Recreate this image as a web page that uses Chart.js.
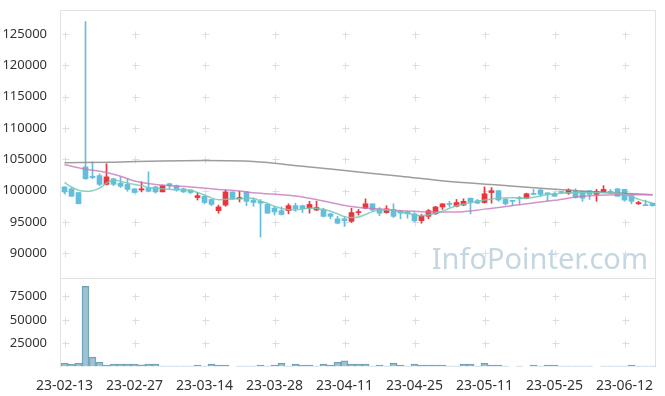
<!DOCTYPE html>
<html>
<head>
<meta charset="utf-8">
<script src="https://cdn.jsdelivr.net/npm/chart.js@4.4.0/dist/chart.umd.min.js"></script>
<style>
  body { margin: 0; background: #fff; }
  #wrap { position: relative; width: 665px; height: 396px; }
  canvas { position: absolute; left: 0; }
  #price { top: 0; }
  #vol { top: 278px; }
</style>
</head>
<body>
<div id="wrap">
  <canvas id="price" width="665" height="278"></canvas>
  <canvas id="vol" width="665" height="118"></canvas>
</div>
<script>
const _ = null;

// 거래일
const dates = [
  '23-02-13','23-02-14','23-02-15','23-02-16','23-02-17','23-02-20','23-02-21','23-02-22','23-02-23','23-02-24',
  '23-02-27','23-02-28','23-03-02','23-03-03','23-03-06','23-03-07','23-03-08','23-03-09','23-03-10','23-03-13',
  '23-03-14','23-03-15','23-03-16','23-03-17','23-03-20','23-03-21','23-03-22','23-03-23','23-03-24','23-03-27',
  '23-03-28','23-03-29','23-03-30','23-03-31','23-04-03','23-04-04','23-04-05','23-04-06','23-04-07','23-04-10',
  '23-04-11','23-04-12','23-04-13','23-04-14','23-04-17','23-04-18','23-04-19','23-04-20','23-04-21','23-04-24',
  '23-04-25','23-04-26','23-04-27','23-04-28','23-05-02','23-05-03','23-05-04','23-05-08','23-05-09','23-05-10',
  '23-05-11','23-05-12','23-05-15','23-05-16','23-05-17','23-05-18','23-05-19','23-05-22','23-05-23','23-05-24',
  '23-05-25','23-05-26','23-05-30','23-05-31','23-06-01','23-06-02','23-06-05','23-06-07','23-06-08','23-06-09',
  '23-06-12','23-06-13','23-06-14','23-06-15','23-06-16'
];

// 시가 / 고가 / 저가 / 종가
const opens = [
  100600, 100300, 99700, 103800, 102300, 102400, 101000, 101900, 101200, 101000,
  100300, 100100, 100400, 100600, 99800, 101100, 100800, 100300, 100100, 98900,
  99100, 98600, 96800, 97700, 99800, 98700, 99800, 98500, 98300, 97800,
  97200, 96800, 96800, 97600, 97600, 97200, 96900, 97000, 96300, 95500,
  95500, 95100, 96500, 97200, 97900, 97100, 96500, 97000, 96800, 96600,
  96300, 95200, 95900, 96300, 97400, 97900, 97500, 97700, 98800, 98400,
  98100, 99700, 100000, 98600, 98400, 98800, 98800, 99500, 100100, 99600,
  99500, 99800, 99600, 100000, 99900, 100000, 99400, 99700, 99900, 100300,
  100200, 99200, 97900, 97700, 98000
];
const highs = [
  100600, 100500, 99700, 127000, 104600, 102700, 104300, 102000, 102200, 101900,
  100300, 101400, 103000, 100700, 100900, 101200, 100900, 100400, 100100, 99700,
  99200, 98600, 97700, 100100, 99800, 99900, 99900, 98800, 98600, 97900,
  97500, 97400, 97900, 98000, 97700, 98300, 98300, 97200, 96400, 95900,
  95900, 97200, 97000, 98700, 97900, 97300, 97600, 97900, 96800, 96700,
  96500, 96200, 97000, 97500, 97900, 98300, 98600, 98700, 98800, 98600,
  100600, 100500, 100000, 98800, 98400, 99100, 99600, 100200, 100200, 99600,
  99700, 99900, 100300, 100300, 99900, 100000, 100200, 100800, 100200, 100300,
  100200, 99200, 98300, 98500, 98000
];
const lows = [
  99500, 99100, 97900, 101800, 101900, 100800, 100900, 100800, 100500, 99900,
  99600, 99800, 99800, 99600, 99800, 100300, 99900, 99700, 99500, 98500,
  97900, 97600, 96400, 97500, 98600, 98200, 97600, 97500, 92600, 96400,
  96100, 96100, 96300, 96700, 96500, 96400, 96800, 95800, 95500, 94700,
  94300, 94900, 96100, 97100, 96700, 96000, 96400, 95700, 95500, 95600,
  95000, 94800, 95500, 96200, 97000, 97400, 97400, 97600, 96300, 97900,
  98000, 98000, 98300, 97700, 97600, 97800, 98700, 99400, 99100, 98400,
  99100, 99600, 99400, 98800, 98300, 98600, 98300, 99700, 99500, 99100,
  98300, 97900, 97800, 97600, 97500
];
const closes = [
  99800, 99100, 97900, 101900, 102100, 101000, 102200, 101000, 100700, 100200,
  99700, 100300, 99900, 99800, 100800, 100800, 100100, 99800, 99700, 99200,
  98100, 97800, 97400, 99800, 98700, 98900, 98300, 98100, 98000, 96400,
  96600, 96200, 97600, 97100, 97100, 97800, 97300, 95900, 95900, 94800,
  95200, 96500, 96600, 97900, 96900, 96400, 97100, 95900, 96400, 96300,
  95200, 96000, 96800, 97400, 97900, 97800, 98100, 98300, 98200, 98000,
  99500, 100000, 98500, 97900, 98300, 98700, 99500, 99400, 99400, 99500,
  99100, 99700, 100100, 98900, 98800, 99400, 99900, 100200, 99600, 99100,
  98500, 98300, 98100, 97600, 97600
];

// 이동평균
const ma5 = [
  101300, 100600, 100050, 99900, 100000, 100400, 101200, 101700, 101500, 101200,
  _, 100800, 100500, _, 100300, _, 100150, _, 100050, 99700,
  99300, 98850, 98550, _, 98650, _, 98750, 98800, 98300, 98000,
  97500, 97150, _, 96900, 97100, 97200, 97150, 97000, 96700, 96300,
  95850, 95700, 95800, 96200, 96650, 96900, 96950, 96850, 96550, 96400,
  96150, 96000, 96150, 96400, 96700, 97200, 97600, _, 98050, _,
  98500, _, 98800, _, 98850, _, 98800, 98950, 99150, 99400,
  99500, _, 99650, _, 99650, _, 99650, _, 99650, 99600,
  99350, 99050, 98650, 98300, 98000
];
const ma20 = [
  104150, _, _, 103450, _, _, 102900, _, 102300, _,
  101550, _, _, 101000, _, 100800, _, _, 100600, _,
  100400, _, 100200, _, _, 99950, _, 99650, _, _,
  _, _, 99250, _, _, 98800, _, _, 98100, _,
  _, 97450, _, _, _, _, 96950, _, _, _,
  _, 96650, _, _, _, _, 96600, _, _, _,
  97050, _, _, _, _, 97750, _, _, _, _,
  98450, _, _, _, 99100, _, _, _, _, 99350,
  _, _, _, _, 99350
];
const ma60 = [
  104450, _, _, _, _, _, _, 104550, _, _,
  _, _, _, _, 104750, _, _, _, _, _,
  104800, _, _, _, _, _, _, 104650, _, _,
  _, _, _, _, 103900, _, _, _, _, _,
  _, 103100, _, _, _, _, _, _, 102300, _,
  _, _, _, _, _, 101450, _, _, _, _,
  _, _, 100900, _, _, _, _, _, _, 100300,
  _, _, _, _, _, _, 99800, _, _, _,
  _, _, _, _, 99350
];

// 거래량
const volumes = [
  3500, 2500, 3500, 85800, 10000, 4600, 1400, 2500, 2500, 2500,
  2500, 1700, 2500, 2500, 350, 350, 350, 350, 350, 1400,
  350, 2500, 1400, 1400, _, 350, 350, 350, 1400, 350,
  1400, 3500, 350, 2500, 1400, 1400, 350, 2500, 1400, 4600,
  6000, 2500, 2500, 2500, 350, 1400, 350, 3500, 1400, 350,
  2500, 1400, 1400, 1400, 1400, 350, 350, 2500, 2500, 350,
  3500, 1400, 1400, 350, _, 350, _, 1400, 350, 1400,
  1400, 350, 350, 350, 350, 350, _, 350, 350, 350,
  350, 1400, 350, 350, 350
];

const priceTicks = [90000, 95000, 100000, 105000, 110000, 115000, 120000, 125000];
const volTicks = [25000, 50000, 75000];

const UP = '#e8363e';
const DOWN = '#62bedc';
const candleColor = c => closes[c.dataIndex] >= opens[c.dataIndex] ? UP : DOWN;

Chart.defaults.font.family = "'Noto Sans', sans-serif";
Chart.defaults.font.size = 13;
Chart.defaults.color = '#333';

// 격자 + 표시, 테두리, 워터마크
const frameGrid = {
  id: 'frameGrid',
  beforeDatasetsDraw(chart, args, opts) {
    const { ctx, chartArea: a, scales } = chart;
    ctx.save();
    if (opts.mark) {
      ctx.font = "29px 'Noto Sans'";
      ctx.fillStyle = '#c4d7e0';
      ctx.textAlign = 'right';
      ctx.textBaseline = 'alphabetic';
      ctx.fillText(opts.mark, a.right - 8, a.bottom - 9);
    }
    ctx.strokeStyle = '#dedede';
    ctx.lineWidth = 1;
    ctx.beginPath();
    for (let i = 0; i < dates.length; i += 10) {
      const px = Math.round(scales.x.getPixelForValue(i)) + 0.5;
      scales.y.ticks.forEach(t => {
        const py = Math.round(scales.y.getPixelForValue(t.value)) + 0.5;
        ctx.moveTo(px - 3, py); ctx.lineTo(px + 4, py);
        ctx.moveTo(px, py - 3); ctx.lineTo(px, py + 4);
      });
    }
    ctx.stroke();
    ctx.strokeStyle = '#e2e2e2';
    ctx.beginPath();
    const l = Math.round(a.left) - 0.5, r = Math.round(a.right) - 0.5;
    const t = Math.round(a.top) + 0.5, b = Math.round(a.bottom);
    ctx.moveTo(l, b); ctx.lineTo(l, t); ctx.lineTo(r, t); ctx.lineTo(r, b);
    ctx.stroke();
    ctx.restore();
  }
};

const yAxisBase = {
  position: 'left',
  grid: { display: false },
  border: { display: false },
  afterFit: s => { s.width = 61; s.paddingTop = 0; s.paddingBottom = 0; }
};

const maLine = (data, color, order) => ({
  type: 'line', data, borderColor: color, borderWidth: 1.5,
  pointRadius: 0, spanGaps: true, cubicInterpolationMode: 'monotone', order
});

new Chart(document.getElementById('price'), {
  type: 'bar',
  data: {
    labels: dates,
    datasets: [
      maLine(ma5, 'rgba(120,200,180,0.85)', 0),
      maLine(ma20, 'rgba(200,120,190,0.8)', 1),
      maLine(ma60, 'rgba(140,140,140,0.85)', 2),
      {
        data: opens.map((o, i) => [o, closes[i]]),
        backgroundColor: candleColor, barThickness: 5, minBarLength: 1,
        grouped: false, order: 3
      },
      {
        data: lows.map((l, i) => [l, highs[i]]),
        backgroundColor: candleColor, barThickness: 1,
        grouped: false, order: 4
      }
    ]
  },
  options: {
    responsive: false,
    animation: false,
    layout: { padding: { top: 10, right: 9, bottom: 0, left: 0 } },
    plugins: { legend: { display: false }, tooltip: { enabled: false }, frameGrid: { mark: 'InfoPointer.com' } },
    scales: {
      x: { display: false },
      y: {
        ...yAxisBase,
        min: 86050, max: 128850,
        afterBuildTicks: s => { s.ticks = priceTicks.map(v => ({ value: v })); },
        ticks: { callback: v => String(v), padding: 6 }
      }
    }
  },
  plugins: [frameGrid]
});

new Chart(document.getElementById('vol'), {
  type: 'bar',
  data: {
    labels: dates,
    datasets: [{
      data: volumes,
      backgroundColor: 'rgba(140,185,205,0.85)',
      borderColor: '#6f9fb4', borderWidth: 1,
      categoryPercentage: 1, barPercentage: 1
    }]
  },
  options: {
    responsive: false,
    animation: false,
    layout: { padding: { top: 0, right: 9, bottom: 0, left: 0 } },
    plugins: { legend: { display: false }, tooltip: { enabled: false }, frameGrid: {} },
    scales: {
      x: {
        grid: { display: false },
        border: { display: false },
        ticks: {
          autoSkip: false, maxRotation: 0, padding: 3,
          font: { size: 14 },
          callback: (v, i) => i % 10 === 0 ? dates[i] : ''
        },
        afterFit: s => { s.height = 29.5; }
      },
      y: {
        ...yAxisBase,
        min: 0, max: 94800,
        afterBuildTicks: s => { s.ticks = volTicks.map(v => ({ value: v })); },
        ticks: { callback: v => String(v), padding: 6 }
      }
    }
  },
  plugins: [frameGrid]
});
</script>
</body>
</html>
